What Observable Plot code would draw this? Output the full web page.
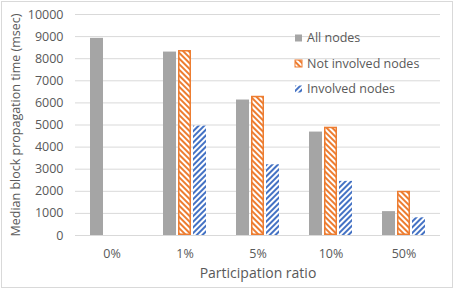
<!DOCTYPE html>
<html><head><meta charset="utf-8">
<script src="https://cdn.jsdelivr.net/npm/d3@7"></script>
<script src="https://cdn.jsdelivr.net/npm/@observablehq/plot@0.6"></script>
<style>
body{margin:0;background:#fff;}
#wrap{position:relative;width:455px;height:290px;overflow:hidden;}
#border{position:absolute;left:1px;top:1px;width:450px;height:285px;border:1px solid #d9d9d9;pointer-events:none}
#wrap svg{position:absolute;left:0;top:0;}
</style></head><body><div id="wrap"><div id="border"></div></div>
<script>
const categories = ["0%", "1%", "5%", "10%", "50%"];
const seriesNames = ["All nodes", "Not involved nodes", "Involved nodes"];
const allNodes = [8920, 8300, 6130, 4680, 1080];
const notInvolved = [null, 8370, 6300, 4900, 2000];
const involved = [null, 4950, 3200, 2450, 800];
const yTicks = [0, 1000, 2000, 3000, 4000, 5000, 6000, 7000, 8000, 9000, 10000];

const seriesValues = [allNodes, notInvolved, involved];
const rows = [];
categories.forEach((c, i) => {
  seriesNames.forEach((s, j) => {
    const v = seriesValues[j][i];
    if (v != null) rows.push({cat: c, series: s, value: v});
  });
});
const bySeries = s => rows.filter(d => d.series === s);

const FONT = "'Open Sans', sans-serif";
const chart = Plot.plot({
  width: 455, height: 290,
  marginLeft: 74, marginRight: 15, marginTop: 14, marginBottom: 55,
  style: {fontFamily: FONT, fontSize: "12px", color: "#595959", background: "transparent", overflow: "visible"},
  fx: {domain: categories, padding: 0, label: null, axis: null},
  x: {domain: seriesNames, paddingInner: 0.125, paddingOuter: 0.85, axis: null},
  y: {domain: [0, 10000], axis: null},
  marks: [
    Plot.gridY(yTicks, {stroke: "#d9d9d9", strokeOpacity: 1}),
    Plot.barY(bySeries("All nodes"), {fx: "cat", x: "series", y: "value", fill: "#a5a5a5"}),
    Plot.barY(bySeries("Not involved nodes"), {fx: "cat", x: "series", y: "value", fill: "url(#hatchO)", stroke: "#ed7d31", strokeWidth: 1.5, inset: 0.75}),
    Plot.barY(bySeries("Involved nodes"), {fx: "cat", x: "series", y: "value", fill: "url(#hatchB)"}),
    Plot.ruleY([0], {stroke: "#d9d9d9"}),
    Plot.axisY(yTicks, {tickSize: 0, tickPadding: 12, tickFormat: d => String(d), fontSize: 12.5,
      label: "Median block propagation time (msec)", labelAnchor: "center", labelOffset: 64, labelArrow: "none"}),
    Plot.axisFx({anchor: "bottom", tickSize: 0, tickPadding: 14, fontSize: 12.5, label: null}),
    Plot.axisFx({anchor: "bottom", ticks: [], tickSize: 0, fontSize: 14,
      label: "Participation ratio", labelAnchor: "center", labelOffset: 42, labelArrow: "none"})
  ]
});

const svg = d3.select(chart);
const defs = svg.insert("defs", ":first-child");
function hatch(id, color, angle) {
  const p = defs.append("pattern").attr("id", id).attr("patternUnits", "userSpaceOnUse")
    .attr("width", 4).attr("height", 4).attr("patternTransform", `rotate(${angle})`);
  p.append("rect").attr("width", 4).attr("height", 4).attr("fill", "#fff");
  p.append("rect").attr("width", 2).attr("height", 4).attr("fill", color);
}
hatch("hatchO", "#ed7d31", -45);
hatch("hatchB", "#4472c4", 45);

// legend
const legend = svg.append("g").attr("font-family", FONT).attr("font-size", 12.5).attr("fill", "#595959").attr("text-anchor", "start");
const lx = 295, ly0 = 38, dy = 25.5;
const swatchFill = ["#a5a5a5", "url(#hatchO)", "url(#hatchB)"];
seriesNames.forEach((s, i) => {
  const y = ly0 + i * dy;
  const r = legend.append("rect").attr("x", lx).attr("y", y - 3.5).attr("width", 7).attr("height", 7).attr("fill", swatchFill[i]);
  if (i === 1) r.attr("stroke", "#ed7d31").attr("stroke-width", 1);
  legend.append("text").attr("x", lx + 12).attr("y", y).attr("dy", "0.35em").text(s);
});

document.getElementById("wrap").appendChild(chart);
</script></body></html>
